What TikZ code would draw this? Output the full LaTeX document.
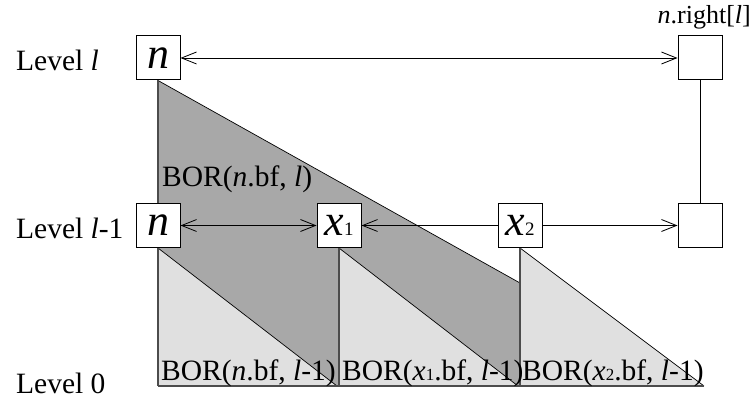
\documentclass[tikz,border=0pt]{standalone}
\usepackage{fontspec}
\setmainfont{Liberation Serif}
\usetikzlibrary{arrows.meta}
\pgfdeclarelayer{bg}
\pgfsetlayers{bg,main}
\begin{document}
\begin{tikzpicture}[x=1pt,y=-1pt,
  lbl/.style={font=\fontsize{29.5}{32}\selectfont, inner sep=0pt},
  bx/.style={draw, fill=white, line width=1pt, minimum size=44pt, inner sep=0pt, font=\fontsize{44}{44}\selectfont\itshape},
  arr/.style={line width=0.8pt, {Straight Barb[length=15pt,width=12pt]}-{Straight Barb[length=15pt,width=12pt]}},
  hyp/.style={line width=0.7pt},
  darkfill/.style={fill=black!34},
  lightfill/.style={fill=black!12},
  tedge/.style={draw=black!70, line width=1.6pt}]
\useasboundingbox (0,0) rectangle (751,398);
% boxes
\node[bx] (nL) at (158,58) {n};
\node[bx] (rL) at (700,58) {};
\node[bx] (nM) at (158,225.5) {n};
\node[bx] (x1) at (339,225.5) {x\textup{\fontsize{19}{19}\selectfont 1}};
\node[bx] (rM) at (700,225.5) {};
% coordinates
\coordinate (dmid) at (520,283);
\coordinate (b0) at (158,386);
\coordinate (b1) at (337,386);
\coordinate (b1s) at (339,386);
\coordinate (b2) at (518,386);
\coordinate (b2s) at (520,386);
\coordinate (b3) at (704,386);
% arrows and links
\draw[arr] (nL) -- (rL);
\draw[line width=0.8pt] (rL) -- (rM);
\draw[arr] (nM) -- (x1);
\draw[arr] (x1) -- (rM);
\node[bx] (x2) at (520,225.5) {x\textup{\fontsize{19}{19}\selectfont 2}};
% triangles
\begin{pgfonlayer}{bg}
\fill[darkfill] (nL.south) -- (dmid) -- (b2s) -- (b0) -- cycle;
\draw[hyp] (nL.south) -- (dmid);
\fill[lightfill] (nM.south) -- (b1) -- (b0) -- cycle;
\draw[hyp] (nM.south) -- (b1);
\fill[lightfill] (x1.south) -- (b2) -- (b1s) -- cycle;
\draw[hyp] (x1.south) -- (b2);
\fill[lightfill] (x2.south) -- (b3) -- (b2s) -- cycle;
\draw[hyp] (x2.south) -- (b3);
\draw[tedge] (nL.south) -- (b0);
\draw[tedge] (x1.south) -- (b1s);
\draw[tedge] (x2.south) -- (b2s);
\draw[tedge] (b0) -- (b3);
\end{pgfonlayer}
% labels
\node[lbl, anchor=base west] (lvl) at (16,71) {Level \textit{l}};
\node[lbl, anchor=base west] (lvlm) at (16,238) {Level \textit{l}-1};
\node[lbl, anchor=base west] (lv0) at (16,393) {Level 0};
\node[lbl, anchor=base east, font=\fontsize{26}{30}\selectfont] (nr) at (751,24) {\textit{n}.right[\textit{l}]};
\node[lbl, anchor=base west] (borL) at (162,186) {BOR(\textit{n}.bf, \textit{l})};
\node[lbl, anchor=base west] (bor0) at (161,380) {BOR(\textit{n}.bf, \textit{l}-1)};
\node[lbl, anchor=base west] (bor1) at (342,380) {BOR(\textit{x}{\fontsize{17}{17}\selectfont 1}.bf, \textit{l}-1)};
\node[lbl, anchor=base west] (bor2) at (522,380) {BOR(\textit{x}{\fontsize{17}{17}\selectfont 2}.bf, \textit{l}-1)};
\end{tikzpicture}
\end{document}
